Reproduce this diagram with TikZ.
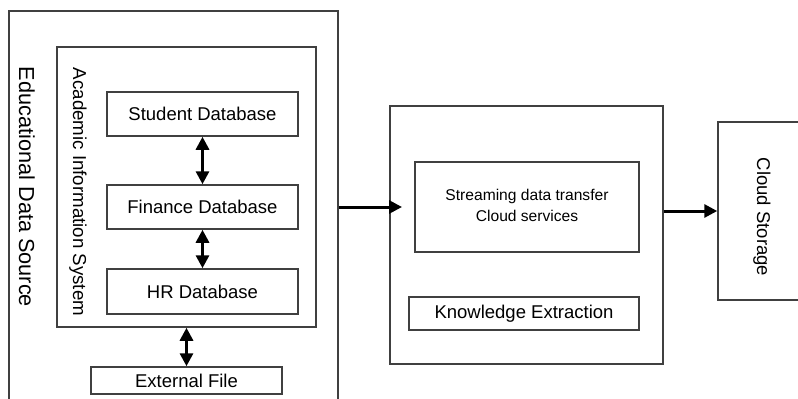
\documentclass[tikz,border=0pt]{standalone}
\usepackage{fontspec}
\setmainfont{Liberation Sans}
\usetikzlibrary{arrows.meta}
\begin{document}
\begin{tikzpicture}[x=1pt,y=-1pt,
  box/.style={draw=black!75,line width=1.5pt,inner sep=0pt},
  lbl/.style={inner sep=0pt,font=\fontsize{18.5}{22}\selectfont},
  arr/.style={line width=3pt,-{Triangle[length=13pt,width=13pt]}},
  darr/.style={line width=3pt,{Triangle[length=13pt,width=13pt]}-{Triangle[length=13pt,width=13pt]}}]
\useasboundingbox (0,0) rectangle (798,399);
% outer boxes
\node[box,minimum width=329pt,minimum height=399pt] (src) at (173.5,210.5) {};
\node[box,minimum width=259pt,minimum height=280pt] (ais) at (186.5,187) {};
\node[lbl,rotate=-90,font=\fontsize{21.7}{26}\selectfont] (srct) at (27,187) {Educational Data Source};
\node[lbl,rotate=-90,font=\fontsize{18.7}{22}\selectfont] (aist) at (78,192) {Academic Information System};
% databases
\node[box,minimum width=191pt,minimum height=44pt] (stu) at (202.5,114) {};
\node[lbl] (stut) at (stu) {Student Database};
\node[box,minimum width=191pt,minimum height=44pt] (fin) at (202.5,207) {};
\node[lbl] (fint) at (fin) {Finance Database};
\node[box,minimum width=191pt,minimum height=45pt] (hr) at (202.5,291.5) {};
\node[lbl] (hrt) at (hr) {HR Database};
\node[box,minimum width=191pt,minimum height=27pt] (ext) at (186.5,380.5) {};
\node[lbl] (extt) at (ext) {External File};
\draw[darr] (stu.south) -- (fin.north);
\draw[darr] (fin.south) -- (hr.north);
\draw[darr] (ais.south) -- (ext.north);
% middle
\node[box,minimum width=273pt,minimum height=258pt] (mid) at (526.5,235) {};
\node[box,minimum width=224pt,minimum height=90pt] (str) at (527,207) {};
\node[lbl,align=center,font=\fontsize{15.6}{21}\selectfont] (strt) at (527,205.5) {Streaming data transfer\\Cloud services};
\node[box,minimum width=230pt,minimum height=33pt] (ke) at (524,313.5) {};
\node[lbl] (ket) at (ke) {Knowledge Extraction};
% cloud
\node[box,minimum width=92pt,minimum height=178pt] (cloud) at (764,211) {};
\node[lbl,rotate=-90] (cloudt) at (762,217) {Cloud Storage};
% arrows
\coordinate (a1) at (402,207);
\draw[arr] (src.east |- a1) -- (a1);
\draw[arr] (mid.east |- cloud.west) -- (cloud.west);
\end{tikzpicture}
\end{document}
